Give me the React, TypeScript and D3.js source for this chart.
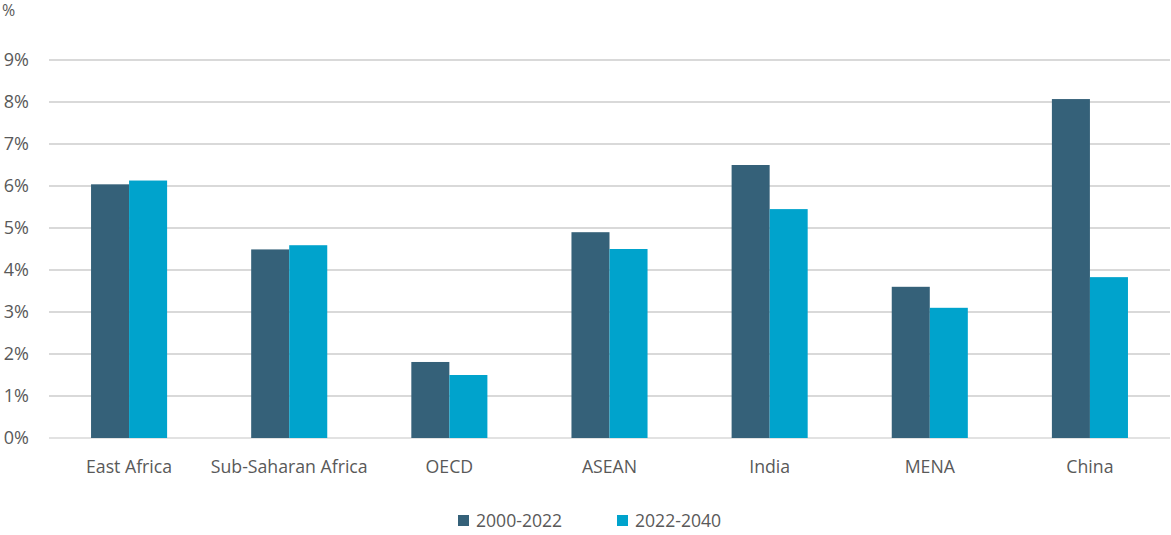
import React from "react";
import * as d3 from "d3";

const categories = ["East Africa", "Sub-Saharan Africa", "OECD", "ASEAN", "India", "MENA", "China"];
const series1Name = "2000-2022";
const series2Name = "2022-2040";
const series1 = [6.04, 4.49, 1.81, 4.9, 6.5, 3.6, 8.07];
const series2 = [6.13, 4.59, 1.5, 4.5, 5.45, 3.1, 3.83];
const yTicks = [0, 1, 2, 3, 4, 5, 6, 7, 8, 9];

const W = 1171;
const H = 535;
const left = 49;
const right = 1170;
const top = 60;
const bottom = 438;
const colors = ["#356179", "#00a3cc"];
const font = "'Open Sans', 'Noto Sans', sans-serif";

export default function App() {
  const x0 = d3.scaleBand<string>().domain(categories).range([left, right]).paddingInner(0.525).paddingOuter(0.2625);
  const x1 = d3.scaleBand<string>().domain(["a", "b"]).range([0, x0.bandwidth()]);
  const y = d3.scaleLinear().domain([0, 9]).range([bottom, top]);
  const seriesList = [series1, series2];
  const keys = ["a", "b"];
  return (
    <svg width={W} height={H} style={{ position: "absolute", left: 0, top: 0, background: "#fff" }}>
      <text x={2} y={16} fontFamily={font} fontSize={16} fill="#595959">%</text>
      {yTicks.map((t) => (
        <g key={t}>
          <line x1={left} x2={right} y1={y(t)} y2={y(t)} stroke={t === 0 ? "#d9d9d9" : "#cccccc"} strokeWidth={1.5} />
          <text x={29} y={y(t)} dy="0.36em" textAnchor="end" fontFamily={font} fontSize={18} fill="#595959">{t}%</text>
        </g>
      ))}
      {categories.map((c, i) => (
        <g key={c}>
          {seriesList.map((s, j) => (
            <rect key={j} x={(x0(c) as number) + (x1(keys[j]) as number)} y={y(s[i])} width={x1.bandwidth()} height={bottom - y(s[i])} fill={colors[j]} />
          ))}
          <text x={(x0(c) as number) + x0.bandwidth() / 2} y={473} textAnchor="middle" fontFamily={font} fontSize={17.7} fill="#595959">{c}</text>
        </g>
      ))}
      <rect x={458} y={515} width={11} height={11} fill={colors[0]} />
      <text x={476} y={527} fontFamily={font} fontSize={17.6} fill="#595959">{series1Name}</text>
      <rect x={617} y={515} width={11} height={11} fill={colors[1]} />
      <text x={635} y={527} fontFamily={font} fontSize={17.6} fill="#595959">{series2Name}</text>
    </svg>
  );
}
